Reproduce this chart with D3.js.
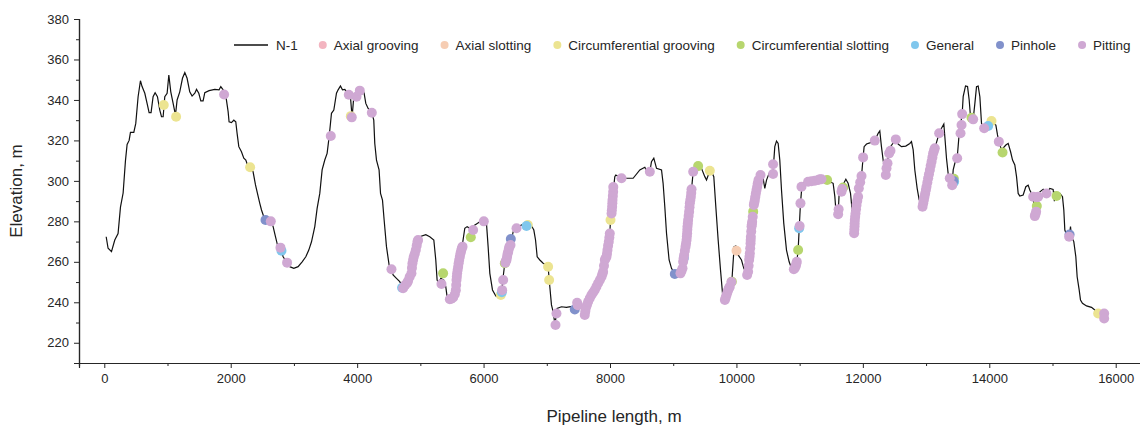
<!DOCTYPE html>
<html>
<head>
<meta charset="utf-8">
<script src="https://cdn.jsdelivr.net/npm/d3@7"></script>
<style>
  body { margin: 0; background: #fff; }
  svg { display: block; font-family: "Liberation Sans", Arial, sans-serif; }
</style>
</head>
<body>
<svg></svg>
<script>
// elevation profile of line N-1: [length m, elevation m]
var profile = [
  [30,272.4],[60,266.7],[114,265],[166,270.8],[218,274],[256,287],[298,294],[335,310],[361,318],[393,320],[414,324],[467,324],[498,328.4],[535,341.6],[572,349.5],[598,346.6],[641,343.3],[677,338.3],[709,333.7],[740,333.7],[772,341.6],[804,343.6],[841,341.6],[878,335],[905,331.7],[931,331.7],[957,341.6],[994,343.3],[1021,352.3],[1052,344],[1089,338.3],[1126,332.5],[1152,340],[1194,344],[1237,350.7],[1274,353.5],[1310,350.7],[1352,344],[1389,341.9],[1432,343.3],[1459,345.2],[1495,343.3],[1527,339.5],[1563,339.5],[1590,343.6],[1658,344.6],[1748,345.2],[1816,345],[1843,346.6],[1880,345],[1906,343.3],[1932,340],[1959,334.2],[1974,329.2],[2012,328.8],[2049,330],[2080,329.2],[2101,323.5],[2128,316.9],[2170,314.4],[2207,311.2],[2239,310.3],[2265,307.9],[2307,306.7],[2354,304.5],[2392,298],[2423,293.8],[2460,288.9],[2487,285.6],[2523,282.3],[2560,280.5],[2634,280],[2671,277.4],[2708,272.4],[2740,268.3],[2787,267],[2829,262.5],[2892,259.6],[2934,257.6],[2998,256.8],[3066,257.6],[3130,260],[3188,262.5],[3235,265.8],[3278,269.9],[3330,277.4],[3367,286.4],[3409,293.8],[3446,305.4],[3488,310.3],[3525,313.6],[3557,321.8],[3594,333.4],[3631,335],[3673,343.3],[3699,345],[3736,346.9],[3768,345],[3805,345.2],[3868,342.6],[3894,341.6],[3920,331.5],[3947,341.6],[3990,342],[4042,344.6],[4084,345.7],[4110,343.3],[4137,338.3],[4174,335.8],[4232,333.7],[4263,330],[4279,318.5],[4306,310.3],[4347,305.4],[4370,293.8],[4401,290.5],[4427,280.7],[4464,267.5],[4506,258.4],[4543,256.3],[4569,253.5],[4622,251.8],[4674,250.2],[4727,247],[4780,248.5],[4806,250.2],[4859,254.3],[4875,259.3],[4896,262.5],[4928,265.8],[4954,269.9],[4991,272.4],[5086,273.4],[5149,272.4],[5213,270.8],[5244,260.9],[5265,251],[5287,249.7],[5324,251.8],[5371,251],[5402,247.7],[5423,242.8],[5466,241.5],[5519,242.4],[5561,246],[5582,254.3],[5614,260.9],[5656,266.7],[5703,276.6],[5740,277.4],[5782,276.6],[5825,277.4],[5888,278.7],[5940,279.8],[6004,280],[6046,279],[6072,267.5],[6099,254.3],[6141,246.1],[6194,243.1],[6246,242.4],[6283,244.4],[6310,252.6],[6336,259.3],[6363,261],[6426,268.3],[6468,274.9],[6521,276.6],[6600,278.2],[6679,277.7],[6758,277.8],[6795,275.7],[6822,270.8],[6848,262.5],[6890,260.9],[6942,259.3],[6995,258.4],[7021,257.6],[7048,247.7],[7074,238.7],[7100,235.4],[7130,229],[7153,234.5],[7163,237],[7232,237.8],[7311,237.5],[7374,237.8],[7417,237],[7480,239.8],[7522,239.5],[7570,236],[7601,233.7],[7617,237],[7654,240.3],[7707,243.6],[7759,246.1],[7812,249.4],[7866,252.6],[7891,255.1],[7918,260.9],[7944,262.5],[7960,265.8],[7981,269.9],[7997,274],[8008,280.7],[8024,283.9],[8040,290.5],[8050,294.6],[8076,302.1],[8092,302.9],[8182,301.3],[8261,301.3],[8366,301.3],[8472,305.4],[8551,306.7],[8577,305.4],[8630,304.5],[8656,309.5],[8693,311.2],[8736,306.2],[8815,305.4],[8840,298.8],[8867,287.2],[8894,274.1],[8935,260.9],[8973,256.8],[9025,254],[9115,254.3],[9157,260],[9211,270.8],[9263,288.9],[9290,295.9],[9316,304.5],[9369,307.8],[9447,306.2],[9500,302.1],[9527,300.4],[9579,305],[9606,304.5],[9642,302.1],[9674,287.2],[9711,270.8],[9748,256],[9780,244.4],[9817,241.1],[9869,246.1],[9927,250.2],[9964,267.5],[9990,267.8],[10027,263.4],[10080,260.9],[10117,256.8],[10169,253.5],[10185,255.1],[10212,264.2],[10239,277.4],[10265,284.8],[10291,290.6],[10328,297.1],[10359,301.3],[10397,303.7],[10422,301.3],[10449,296.3],[10476,300.4],[10517,303.7],[10580,305],[10607,316.9],[10634,319.7],[10660,318.5],[10686,310.3],[10713,295.5],[10749,279],[10792,265.8],[10834,260],[10871,256.8],[10908,256.3],[10955,260],[10976,265.8],[10992,275.7],[11013,288.9],[11040,298.8],[11134,299.6],[11240,300.1],[11346,300.8],[11435,300.4],[11478,299.6],[11530,298.8],[11557,292.2],[11573,285.6],[11609,283.5],[11625,293.8],[11662,294.6],[11699,298.8],[11731,300.8],[11767,298.8],[11805,293.8],[11830,285.6],[11862,274.1],[11884,283.9],[11900,288.1],[11936,296.3],[11979,302.4],[12004,311.6],[12020,316.9],[12058,318.2],[12110,318.8],[12189,319.9],[12242,323.5],[12268,324.7],[12294,316.9],[12321,310.3],[12363,302.9],[12400,311.9],[12437,316.9],[12521,320.5],[12558,318.2],[12611,316.9],[12679,317.2],[12743,318.5],[12769,319.4],[12796,315.3],[12822,305.4],[12859,296.3],[12891,290.6],[12944,287.2],[13007,297.1],[13060,305.4],[13112,313.6],[13138,316.1],[13207,323.5],[13244,326],[13281,328.1],[13297,321.8],[13323,311.2],[13349,303.7],[13375,301.3],[13413,297.9],[13429,305.4],[13455,308.7],[13492,311.2],[13524,323.5],[13571,333],[13587,341.6],[13624,346.9],[13656,346.6],[13682,340],[13703,331.7],[13745,330.4],[13772,338.3],[13798,346.6],[13824,346.9],[13851,341.6],[13877,328.4],[13919,326],[13956,326],[14061,328.4],[14104,327.6],[14130,322.7],[14151,319.4],[14194,315.3],[14262,317.7],[14299,318.5],[14337,314.4],[14368,310.3],[14404,307.9],[14431,302.1],[14457,293.8],[14483,292.5],[14536,293],[14578,297.1],[14615,297.9],[14641,295.5],[14694,292.2],[14720,282.6],[14741,284.8],[14757,291.9],[14800,294.6],[14853,295.8],[14905,293.8],[14958,296.3],[15010,295.8],[15030,290],[15040,294],[15064,292.5],[15116,293.8],[15158,292.2],[15179,285.6],[15195,275.7],[15211,274.4],[15263,272.4],[15285,277.4],[15300,272.4],[15337,270],[15369,262.5],[15390,252.6],[15422,246.1],[15443,241.1],[15474,239.5],[15538,238.2],[15617,237.5],[15669,236.2],[15722,234.5],[15770,233.7]
];

// defects: [length m, elevation m]
var axialGrooving = [];
var axialSlotting = [[10001,265.5]];
var circGrooving = [[941,337.5],[1136,331.7],[2307,306.7],[3900,332],[6273,243.6],[6700,278.2],[7021,257.6],[7037,251],[8008,280.7],[9579,305],[14035,329.6],[15722,234.5]];
var circSlotting = [[5360,254.3],[5798,272.1],[6336,259.3],[9394,307.3],[9927,250.2],[10265,284.8],[10976,265.8],[11435,300.4],[11688,296.7],[13440,301],[13719,331.2],[14210,314],[14752,287.6],[15064,292.5]];
var general = [[2803,265.5],[4711,247.2],[6289,245],[6679,277.7],[9170,262],[10992,276.6],[13444,299.6],[13982,327.1]];
var pinhole = [[2550,280.7],[6431,271.3],[7443,236.5],[9025,254],[13430,300],[15270,273.5]];
var pitting = [
  [1895,342.7],[2634,280],[2787,267],[2892,259.6],[3583,322.2],[3868,342.6],[3915,331.4],[3990,341.6],[4042,344.6],[4232,333.7],[4543,256.3],[4727,246.9],[4760,248.5],[4790,249.5],[4806,250.5],[4830,252.5],[4859,254.3],[4867,257],[4875,259.3],[4886,261],[4896,262.5],[4912,264],[4928,265.8],[4942,268],[4954,269.9],[4964,270.8],
  [5334,249],[5466,241.5],[5490,241.8],[5519,242.4],[5545,244],[5561,246],[5567,248.5],[5572,251],[5577,252.6],[5582,254.3],[5590,256],[5598,257.6],[5606,259.3],[5614,260.9],[5625,262.5],[5635,264.2],[5646,265.5],[5656,266.7],[5667,267.5],[5835,275.7],[6004,280],
  [6294,246],[6310,251],[6345,259.5],[6355,260.5],[6363,261],[6372,262.5],[6380,264],[6390,265],[6400,266.5],[6410,267.5],[6426,268.3],[6521,276.6],[7138,228.8],[7153,234.5],[7480,239.8],[7490,238.5],
  [7601,233.7],[7609,235.5],[7617,237],[7635,238.7],[7654,240.3],[7680,242],[7707,243.6],[7733,244.8],[7759,246.1],[7785,247.7],[7812,249.4],[7840,251],[7866,252.6],[7880,254],[7891,255.1],[7905,258],[7918,260.9],[7930,261.7],[7944,262.5],[7952,264],[7960,265.8],[7970,268],[7981,269.9],[7990,272],[7997,274],[8024,283.9],[8029,285.5],[8034,287.2],[8037,289],[8040,290.5],[8045,292.5],[8050,294.6],[8052,297],[8182,301.3],[8630,304.5],
  [9115,254.3],[9131,255.5],[9147,256.8],[9157,260],[9165,261.7],[9173,263.4],[9184,265.5],[9195,267.5],[9203,269],[9211,270.8],[9216,272.5],[9220,274.1],[9223,275.8],[9226,277.4],[9231,279],[9236,280.7],[9244,282.7],[9252,284.8],[9258,287],[9263,288.9],[9271,290.5],[9279,292.2],[9285,294],[9290,295.9],[9316,304.5],
  [9817,241.1],[9830,242.3],[9843,243.6],[9856,244.8],[9869,246.1],[9882,247],[9895,247.7],[9920,250],
  [10169,253.5],[10185,255.1],[10193,258],[10201,260.9],[10207,262.5],[10212,264.2],[10218,266.7],[10223,269.1],[10226,270.8],[10228,272.4],[10234,275],[10239,277.4],[10244,278.5],[10249,279.8],[10258,282.3],[10275,288.1],[10283,289.3],[10291,290.6],[10299,292.2],[10307,293.8],[10318,295.5],[10328,297.1],[10338,298.8],[10349,300.4],[10381,302.9],[10580,303.4],[10580,308.2],
  [10908,256.3],[10924,257],[10939,257.9],[10947,259],[10955,260],[11000,277.7],[11013,288.9],[11029,297.1],[11134,299.6],[11187,299.8],[11240,300.1],[11293,300.4],[11319,300.8],[11346,300.8],[11609,283.5],[11617,286],[11662,294.6],[11672,296],
  [11862,274.1],[11865,275.8],[11868,277.4],[11870,279],[11873,280.7],[11878,282.3],[11884,283.9],[11892,286],[11900,288.1],[11912,290.2],[11925,292.2],[11936,296.3],[11958,299.3],[11979,302.4],[12004,311.6],[12189,319.9],
  [12363,302.9],[12374,306.2],[12390,308.7],[12416,313.6],[12437,314.9],[12521,320.5],
  [12944,287.2],[12955,289],[12965,290.6],[12975,292.2],[12986,293.8],[12997,295.5],[13007,297.1],[13020,299.2],[13033,301.3],[13046,303.3],[13060,305.4],[13073,307.5],[13087,309.5],[13100,311.6],[13112,313.6],[13125,314.9],[13138,316.1],[13207,323.5],
  [13375,301.3],[13413,297.9],[13492,311.2],[13545,323.5],[13561,327.6],[13571,333],[13745,330.4],[13919,326],[14151,319.4],
  [14694,292.2],[14720,282.6],[14730,283.5],[14741,284.8],[14757,291.9],[14773,292.2],[14905,293.8],[15263,272.4],[15817,234.5],[15817,232]
];

var defectNames = ["Axial grooving","Axial slotting","Circumferential grooving","Circumferential slotting","General","Pinhole","Pitting"];
var defectData = [axialGrooving, axialSlotting, circGrooving, circSlotting, general, pinhole, pitting];
var defectColors = ["#f3b4c0","#f6cdb3","#ece491","#b7d66e","#80c7ed","#8191cb","#cfa8d3"];

var xTicks = [0,2000,4000,6000,8000,10000,12000,14000,16000];
var yTicks = [220,240,260,280,300,320,340,360,380];

var width = 1140, height = 427;
var svg = d3.select("svg").attr("width", width).attr("height", height);

var xScale = d3.scaleLinear().domain([-400,16400]).range([79,1141]);
var yScale = d3.scaleLinear().domain([210,380]).range([363,19]);
var ink = "#262626";

// axes
var xAxis = d3.axisBottom(xScale).tickValues(xTicks).tickSize(5).tickPadding(6).tickFormat(d3.format("d"));
var gx = svg.append("g").attr("transform","translate(0,363)").call(xAxis);
var xMinor = d3.axisBottom(xScale).tickValues(d3.range(1000,16001,2000)).tickSize(3).tickFormat("");
svg.append("g").attr("transform","translate(0,363)").call(xMinor);

var yAxis = d3.axisLeft(yScale).tickValues(yTicks).tickSize(5).tickPadding(5);
var gy = svg.append("g").attr("transform","translate(79,0)").call(yAxis);
var yMinor = d3.axisLeft(yScale).tickValues(d3.range(230,380,20)).tickSize(3).tickFormat("");
svg.append("g").attr("transform","translate(79,0)").call(yMinor);

svg.selectAll(".domain").attr("stroke", ink).attr("stroke-width", 1.2);
svg.selectAll(".tick line").attr("stroke", ink).attr("stroke-width", 1);
svg.selectAll(".tick text").attr("fill", ink).style("font-size","13px").style("font-family","Liberation Sans, Arial, sans-serif");

svg.append("text")
   .attr("transform","translate(22,191) rotate(-90)")
   .attr("text-anchor","middle")
   .style("font-size","17px")
   .attr("fill", ink)
   .text("Elevation, m");
svg.append("text")
   .attr("x", 614).attr("y", 422)
   .attr("text-anchor","middle")
   .style("font-size","17px")
   .attr("fill", ink)
   .text("Pipeline length, m");

// profile line
var line = d3.line()
  .x(function(d){ return xScale(d[0]); })
  .y(function(d){ return yScale(d[1]); });
svg.append("path")
   .datum(profile)
   .attr("d", line)
   .attr("fill","none")
   .attr("stroke","#111")
   .attr("stroke-width",1.2);

// defects
defectData.forEach(function(arr,i){
  svg.append("g").selectAll("circle")
     .data(arr)
     .enter()
     .append("circle")
     .attr("cx", function(d){ return xScale(d[0]); })
     .attr("cy", function(d){ return yScale(d[1]); })
     .attr("r", 5)
     .attr("fill", defectColors[i]);
});

// legend
var leg = svg.append("g").style("font-size","13.5px").attr("fill", ink);
var cx = 234, ly = 45;
leg.append("line").attr("x1",cx).attr("x2",cx+34).attr("y1",ly).attr("y2",ly)
   .attr("stroke","#111").attr("stroke-width",1.3);
var t = leg.append("text").attr("x",cx+42).attr("y",ly+4.5).text("N-1");
cx = cx + 42 + t.node().getComputedTextLength() + 21;
defectNames.forEach(function(name,i){
  leg.append("circle").attr("cx",cx+4).attr("cy",ly).attr("r",4).attr("fill",defectColors[i]);
  var tt = leg.append("text").attr("x",cx+15).attr("y",ly+4.5).text(name);
  cx = cx + 15 + tt.node().getComputedTextLength() + 22;
});
</script>
</body>
</html>
